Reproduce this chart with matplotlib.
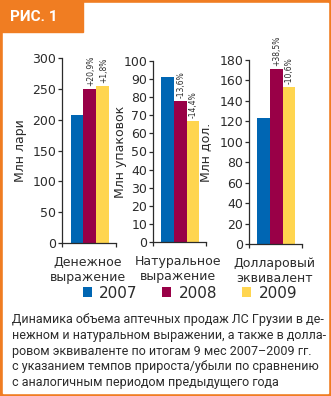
import matplotlib
matplotlib.use("Agg")
import matplotlib.pyplot as plt
from matplotlib.patches import Rectangle

W, H = 331, 396

years = ["2007", "2008", "2009"]
colors = ["#0066B3", "#990047", "#FFD54F"]

categories = ["Денежное\nвыражение", "Натуральное\nвыражение", "Долларовый\nэквивалент"]
ylabels = ["Млн лари", "Млн упаковок", "Млн дол."]
values = [
    [208, 250, 255],
    [91, 78, 67],
    [123, 171, 154],
]
growth = [
    ["", "+20,9%", "+1,8%"],
    ["", "-13,6%", "-14,4%"],
    ["", "+38,5%", "-10,6%"],
]
yticks = [
    [0, 50, 100, 150, 200, 250, 300],
    [0, 10, 20, 30, 40, 50, 60, 70, 80, 90, 100],
    [0, 20, 40, 60, 80, 100, 120, 140, 160, 180],
]
caption = ("Динамика объема аптечных продаж ЛС Грузии в де-\n"
           "нежном и натуральном выражении, а также в долла-\n"
           "ровом эквиваленте по итогам 9 мес 2007–2009 гг.\n"
           "с указанием темпов прироста/убыли по сравнению\n"
           "с аналогичным периодом предыдущего года")

ORANGE = "#F07D22"
TXT = "#2b2b2b"

fig = plt.figure(figsize=(W / 100, H / 100), dpi=100)
plt.rcParams['font.family'] = ['DejaVu Sans']

def rect(x0, y0, x1, y1):
    return [x0 / W, 1 - y1 / H, (x1 - x0) / W, (y1 - y0) / H]

# frame
fig.patches.append(Rectangle((0, 0), 1, 1, transform=fig.transFigure, color=ORANGE, zorder=-10))
l, b, w, h = rect(3, 3, 328, 393)
fig.patches.append(Rectangle((l, b), w, h, transform=fig.transFigure, color="white", zorder=-9))
l, b, w, h = rect(0, 0, 83, 32)
fig.patches.append(Rectangle((l, b), w, h, transform=fig.transFigure, color=ORANGE, zorder=-8))
fig.text(10 / W, 1 - 17 / H, "РИС. 1", color="white", fontsize=11, fontweight="bold",
         family=["Roboto", "DejaVu Sans"], ha="left", va="center")

boxes = [(62, 58, 116, 243), (153, 61, 206, 242), (249, 60, 302, 244)]
label_right = [27, 127, 212]
xs = [-1, 0, 1]
handles = None
for i, (x0, y0, x1, y1) in enumerate(boxes):
    ax = fig.add_axes(rect(x0, y0, x1, y1))
    bars = ax.bar(xs, values[i], width=1.0, color=colors, linewidth=0)
    if handles is None:
        handles = list(bars)
    ax.set_xlim(-2.17, 2.05)
    ax.set_ylim(yticks[i][0], yticks[i][-1])
    ax.set_yticks(yticks[i])
    ax.set_xticks([-2.17, 2.05])
    ax.set_xticklabels(["", ""])
    for s in ["top", "right"]:
        ax.spines[s].set_visible(False)
    for s in ["left", "bottom"]:
        ax.spines[s].set_color(TXT)
        ax.spines[s].set_linewidth(0.9)
    ax.tick_params(axis="both", direction="out", length=3, width=0.9, color=TXT,
                   labelsize=9, labelcolor=TXT, pad=1)
    ax.set_ylabel(ylabels[i], fontsize=9, color=TXT)
    ax.yaxis.set_label_coords((label_right[i] - x0) / (x1 - x0), 0.5)
    ax.patch.set_alpha(0)
    for x, v, g in zip(xs, values[i], growth[i]):
        if g:
            ax.annotate(g, xy=(x, v), xytext=(0.5, 2), textcoords="offset points",
                        rotation=90, ha="center", va="bottom", fontsize=5.5, color=TXT)
    ax.annotate(categories[i], xy=(0, 0), xycoords=("data", "axes fraction"),
                xytext=(-1.5, -9.5), textcoords="offset points",
                ha="center", va="top", fontsize=9, color=TXT, linespacing=1.2)

fig.legend(handles, years, loc="center", bbox_to_anchor=(190 / W, 1 - 293 / H),
           ncol=3, frameon=False, fontsize=11, handlelength=0.6, handleheight=0.6,
           handletextpad=0.5, columnspacing=1.6, labelcolor=TXT, borderpad=0)

fig.text(12 / W, 1 - 313 / H, caption, ha="left", va="top", fontsize=9,
         family=["Roboto", "DejaVu Sans"], color=TXT, linespacing=1.28)

fig.savefig("out.png", dpi=100)
